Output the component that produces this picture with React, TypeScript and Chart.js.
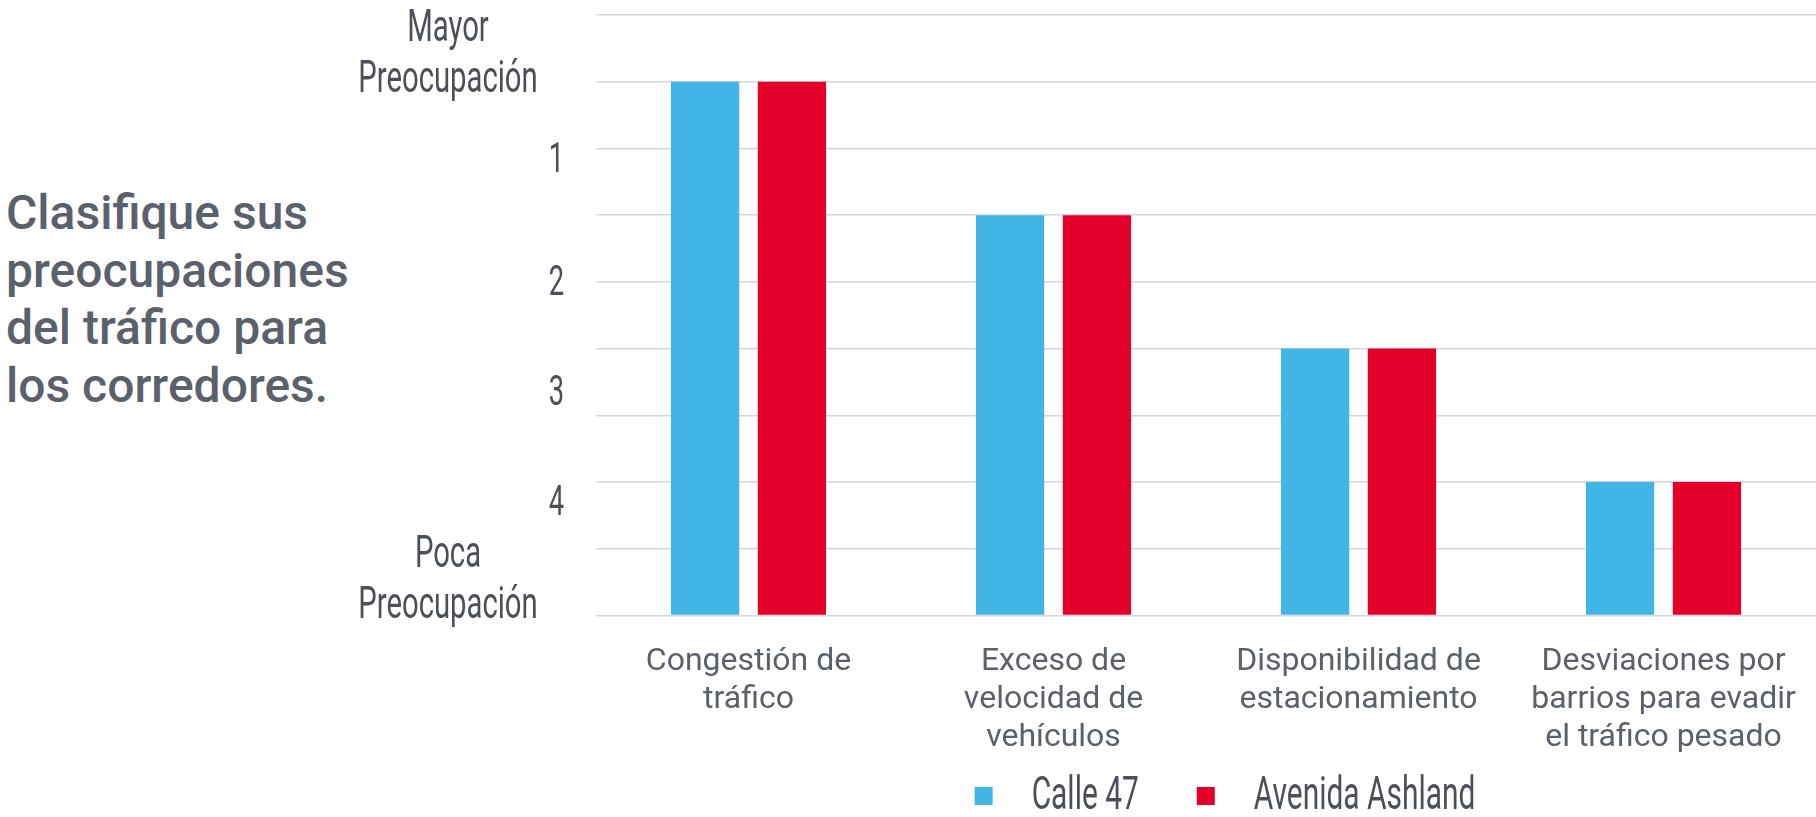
import React, { useEffect, useRef } from "react";
import { Chart, registerables } from "chart.js";

Chart.register(...registerables);

// ---- data ----
const categories: string[][] = [
  ["Congestión de", "tráfico"],
  ["Exceso de", "velocidad de", "vehículos"],
  ["Disponibilidad de", "estacionamiento"],
  ["Desviaciones por", "barrios para evadir", "el tráfico pesado"],
];
const seriesNames = ["Calle 47", "Avenida Ashland"];
const calle47 = [8, 6, 4, 2];
const avenidaAshland = [8, 6, 4, 2];
const yMin = 0;
const yMax = 9;
const yStep = 1;
const yTickLabels: string[][] = [
  ["Mayor", "Preocupación"],
  ["1"],
  ["2"],
  ["3"],
  ["4"],
  ["Poca", "Preocupación"],
];
const yTickValues = [8.47, 6.87, 5.03, 3.38, 1.73, 0.58];
const titleLines = ["Clasifique sus", "preocupaciones", "del tráfico para", "los corredores."];

// ---- styles ----
const BLUE = "#41B6E6";
const RED = "#E4002B";
const LABEL_GRAY = "#4B5058";
const TEXT_GRAY = "#5B616B";
const CONDENSE = 0.65;

const condensedLabels = {
  id: "condensedLabels",
  afterDraw(chart: any) {
    const ctx = chart.ctx as CanvasRenderingContext2D;
    const area = chart.chartArea;
    const yScale = chart.scales.y;
    ctx.save();
    ctx.fillStyle = LABEL_GRAY;
    // y-axis labels
    yTickLabels.forEach((lines, i) => {
      const yc = yScale.getPixelForValue(yTickValues[i]);
      const multi = lines.length > 1;
      const size = multi ? 45 : 42;
      const lineH = 51;
      const capH = 0.711 * size;
      ctx.font = `400 ${size}px Roboto`;
      const x = multi ? area.left - 148 : area.left - 32;
      lines.forEach((t, j) => {
        const base = yc - ((lines.length - 1) * lineH) / 2 + j * lineH + capH / 2;
        ctx.save();
        ctx.translate(x, base);
        ctx.scale(CONDENSE, 1);
        ctx.textAlign = multi ? "center" : "right";
        ctx.textBaseline = "alphabetic";
        ctx.fillText(t, 0, 0);
        ctx.restore();
      });
    });
    // legend
    const colors = [BLUE, RED];
    const size = 46;
    ctx.font = `400 ${size}px Roboto`;
    const box = 18;
    const boxGap = 39;
    const itemGap = 58;
    const widths = seriesNames.map((n) => ctx.measureText(n).width * CONDENSE);
    const total = widths.reduce((s, w) => s + box + boxGap + w, 0) + itemGap * (seriesNames.length - 1);
    let x = (area.left + area.right) / 2 + 19 - total / 2;
    const base = chart.height - 8;
    const boxCenter = chart.height - 21;
    seriesNames.forEach((n, i) => {
      ctx.fillStyle = colors[i];
      ctx.fillRect(x, boxCenter - box / 2, box, box);
      x += box + boxGap;
      ctx.fillStyle = LABEL_GRAY;
      ctx.save();
      ctx.translate(x, base);
      ctx.scale(CONDENSE, 1);
      ctx.textAlign = "left";
      ctx.textBaseline = "alphabetic";
      ctx.fillText(n, 0, 0);
      ctx.restore();
      x += widths[i] + itemGap;
    });
    ctx.restore();
  },
};

export default function App() {
  const canvasRef = useRef<HTMLCanvasElement | null>(null);

  useEffect(() => {
    document.body.style.margin = "0";
    const canvas = canvasRef.current;
    if (!canvas) return;
    const chart = new Chart(canvas, {
      type: "bar",
      data: {
        labels: categories,
        datasets: [
          {
            label: seriesNames[0],
            data: calle47,
            backgroundColor: BLUE,
            borderWidth: 0,
            categoryPercentage: 0.5696,
            barPercentage: 0.786,
          },
          {
            label: seriesNames[1],
            data: avenidaAshland,
            backgroundColor: RED,
            borderWidth: 0,
            categoryPercentage: 0.5696,
            barPercentage: 0.786,
          },
        ],
      },
      options: {
        responsive: false,
        animation: false,
        layout: { padding: { left: 596, top: 15, right: -2, bottom: 0 } },
        plugins: {
          legend: { display: false },
          tooltip: { enabled: false },
        },
        scales: {
          x: {
            grid: { display: false },
            border: { display: false },
            ticks: {
              color: TEXT_GRAY,
              font: { family: "Roboto", size: 32, lineHeight: 1.19 },
              padding: 19,
              maxRotation: 0,
              autoSkip: false,
            },
            afterFit: (s: any) => {
              s.height = 201.5;
            },
          },
          y: {
            min: yMin,
            max: yMax,
            ticks: { display: false, stepSize: yStep },
            grid: { color: "#D6D6D6", lineWidth: 1.5, drawTicks: false },
            border: { display: false },
            afterFit: (s: any) => {
              s.width = 0;
            },
          },
        },
      },
      plugins: [condensedLabels],
    });
    return () => chart.destroy();
  }, []);

  return (
    <div style={{ position: "fixed", left: 0, top: 0, width: 1816, height: 817, background: "#fff" }}>
      <div
        style={{
          position: "absolute",
          left: 6,
          top: 184,
          fontFamily: "Roboto",
          fontWeight: 500,
          fontSize: 48,
          lineHeight: "57.5px",
          color: TEXT_GRAY,
          whiteSpace: "nowrap",
        }}
      >
        {titleLines.map((l, i) => (
          <div key={i}>{l}</div>
        ))}
      </div>
      <canvas
        ref={canvasRef}
        width={1816}
        height={817}
        style={{ position: "absolute", left: 0, top: 0, display: "block" }}
      />
    </div>
  );
}
